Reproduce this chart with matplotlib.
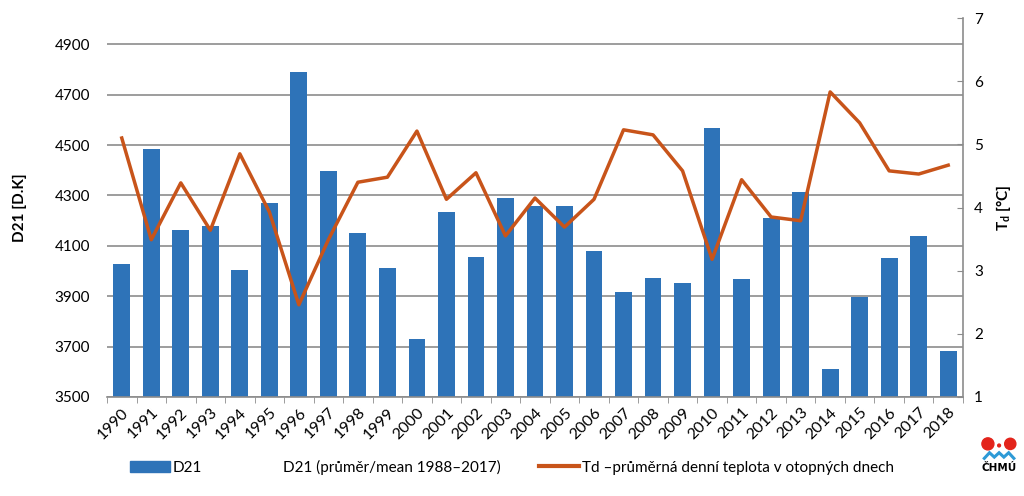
import matplotlib.pyplot as plt
from matplotlib.lines import Line2D
from matplotlib.patches import Patch, Circle

plt.rcParams['font.family'] = ['Lato', 'DejaVu Sans']

years = [str(y) for y in range(1990, 2019)]
d21 = [4028, 4484, 4163, 4179, 4004, 4270, 4790, 4397, 4151, 4012,
       3730, 4234, 4056, 4290, 4258, 4258, 4079, 3917, 3972, 3952,
       4567, 3968, 4210, 4313, 3611, 3897, 4052, 4139, 3683]
td = [5.10, 3.49, 4.39, 3.64, 4.85, 3.93, 2.46, 3.49, 4.40, 4.48,
      5.21, 4.13, 4.55, 3.55, 4.15, 3.69, 4.13, 5.23, 5.15, 4.58,
      3.18, 4.44, 3.85, 3.79, 5.83, 5.34, 4.58, 4.53, 4.67]
left_ticks = [3500, 3700, 3900, 4100, 4300, 4500, 4700, 4900]
right_ticks = [1, 2, 3, 4, 5, 6, 7]

bar_color = '#2E73B8'
line_color = '#C8541A'
grid_color = '#8c8c8c'

fig = plt.figure(figsize=(10.24, 4.96), dpi=100)
ax = fig.add_axes([0.1045, 0.1996, 0.8359, 0.7641])
x = range(len(years))
ax.bar(x, d21, width=0.57, color=bar_color, zorder=2)
ax.set_xlim(-0.5, len(years) - 0.5)
ax.set_ylim(3500, 5004)
ax.set_yticks(left_ticks)
ax.yaxis.grid(True, color=grid_color, linewidth=1.2, zorder=0)
ax.set_axisbelow(True)
ax.set_xticks(list(x))
ax.set_xticklabels(years, rotation=45, ha='right', rotation_mode='anchor', fontsize=11.5)
ax.set_xticks([i + 0.5 for i in range(-1, len(years))], minor=True)
ax.tick_params(axis='x', which='major', length=0, pad=6)
ax.tick_params(axis='x', which='minor', length=4, color=grid_color)
ax.tick_params(axis='y', length=0, labelsize=11, pad=12)
for s in ['top', 'right', 'left']:
    ax.spines[s].set_visible(False)
ax.spines['bottom'].set_color(grid_color)
ax.spines['bottom'].set_linewidth(1.2)
ax.set_ylabel('D21 [D.K]', fontsize=11, fontweight='bold', labelpad=20)

ax2 = ax.twinx()
ax2.plot(x, td, color=line_color, linewidth=2.5, zorder=3)
ax2.set_ylim(1, 7)
ax2.set_yticks(right_ticks)
ax2.tick_params(axis='y', length=4, color=grid_color, labelsize=11, direction='in', pad=8)
for s in ['top', 'left', 'bottom']:
    ax2.spines[s].set_visible(False)
ax2.spines['right'].set_color(grid_color)
ax2.spines['right'].set_linewidth(1.2)
ax2.set_ylabel('T$_\\mathregular{d}$ [°C]', fontsize=11, fontweight='bold', labelpad=8)

handles = [Patch(color=bar_color),
           Line2D([], [], color='none'),
           Line2D([], [], color=line_color, linewidth=3)]
labels = ['D21', 'D21 (průměr/mean 1988–2017)', 'Td –průměrná denní teplota v otopných dnech']
fig.legend(handles, labels, loc='center', bbox_to_anchor=(0.5, 0.058), ncol=3,
           frameon=False, fontsize=11, handlelength=2.6, handletextpad=0.2,
           columnspacing=2.5)

# CHMU logo
lax = fig.add_axes([0.955, 0.0403, 0.039, 0.081])
lax.set_xlim(0, 10)
lax.set_ylim(0, 10)
lax.axis('off')
lax.add_patch(Circle((2.5, 8.0), 1.5, color='#E3241B'))
lax.add_patch(Circle((8.1, 8.0), 1.4, color='#E3241B'))
lax.add_patch(Circle((5.3, 7.6), 0.35, color='#E3241B'))
lax.plot([1.6, 2.9, 4.1, 5.3, 6.5, 7.7, 9.0], [4.4, 5.8, 4.7, 5.8, 4.7, 5.8, 4.4],
         color='#2E9AD6', linewidth=2.2, solid_joinstyle='miter')
lax.text(5.2, 1.9, 'ČHMÚ', fontsize=7.5, fontweight='bold', ha='center', va='center',
         family=['DejaVu Sans'], clip_on=False)

fig.savefig('out.png', dpi=100)
